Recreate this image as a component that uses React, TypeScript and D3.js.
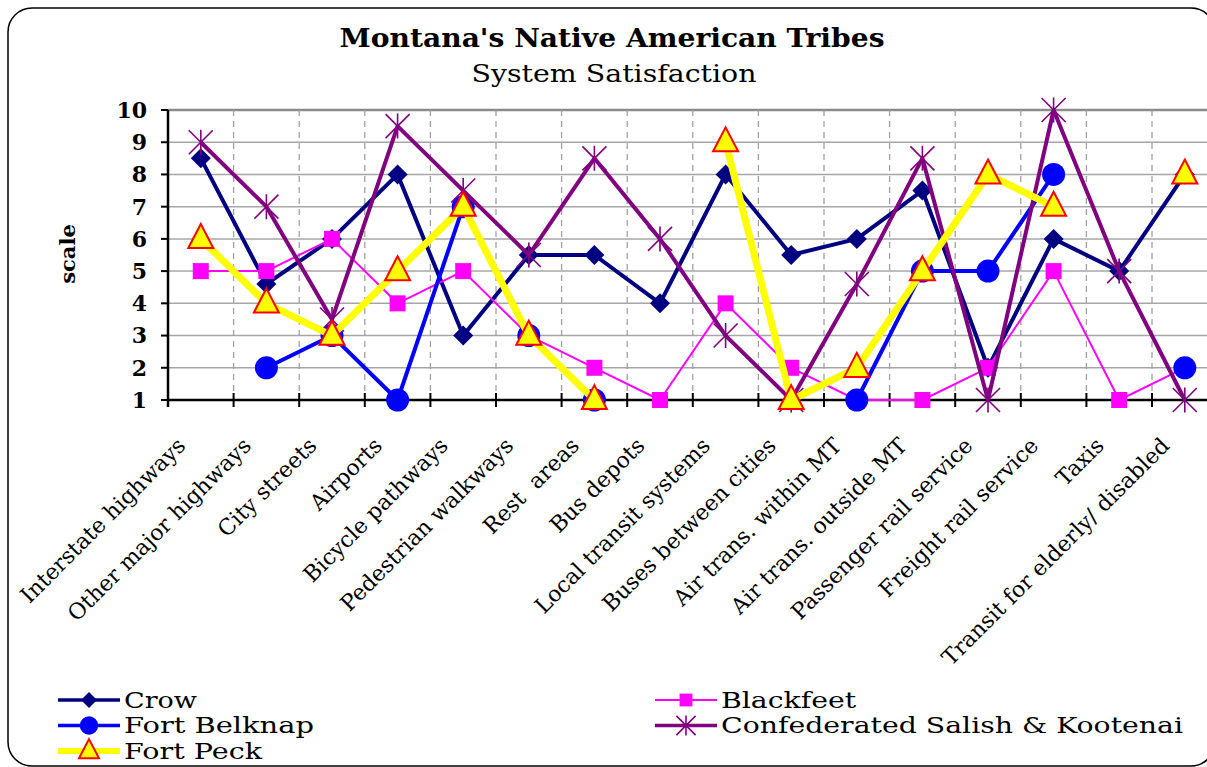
import React from "react";
import * as d3 from "d3";

const categories = [
  "Interstate highways",
  "Other major highways",
  "City streets",
  "Airports",
  "Bicycle pathways",
  "Pedestrian walkways",
  "Rest  areas",
  "Bus depots",
  "Local transit systems",
  "Buses between cities",
  "Air trans. within MT",
  "Air trans. outside MT",
  "Passenger rail service",
  "Freight rail service",
  "Taxis",
  "Transit for elderly/ disabled",
];

const crow: (number | null)[] = [8.5, 4.6, 6, 8, 3, 5.5, 5.5, 4, 8, 5.5, 6, 7.5, 2, 6, 5, 8];
const blackfeet: (number | null)[] = [5, 5, 6, 4, 5, 3, 2, 1, 4, 2, 1, 1, 2, 5, 1, 2];
const fortBelknap: (number | null)[] = [null, 2, 3, 1, 7, 3, 1, null, null, null, 1, 5, 5, 8, null, 2];
const salishKootenai: (number | null)[] = [9, 7, 3.5, 9.5, 7.5, 5.5, 8.5, 6, 3, 1, 4.6, 8.5, 1, 10, 5, 1];
const fortPeck: (number | null)[] = [6, 4, 3, 5, 7, 3, 1, null, 9, 1, 2, 5, 8, 7, null, 8];

const yTicks = [1, 2, 3, 4, 5, 6, 7, 8, 9, 10];

type MarkerType = "diamond" | "square" | "circle" | "asterisk" | "triangle";

interface Series {
  name: string;
  values: (number | null)[];
  color: string;
  width: number;
  marker: MarkerType;
}

const series: Series[] = [
  { name: "Crow", values: crow, color: "#000080", width: 4, marker: "diamond" },
  { name: "Blackfeet", values: blackfeet, color: "#FF00FF", width: 2, marker: "square" },
  { name: "Fort Belknap", values: fortBelknap, color: "#0000FF", width: 4, marker: "circle" },
  { name: "Confederated Salish & Kootenai", values: salishKootenai, color: "#800080", width: 4, marker: "asterisk" },
  { name: "Fort Peck", values: fortPeck, color: "#FFFF00", width: 7, marker: "triangle" },
];

const legendItems = [
  { name: "Crow", col: 0, row: 0, len: 73 },
  { name: "Blackfeet", col: 1, row: 0, len: 135 },
  { name: "Fort Belknap", col: 0, row: 1, len: 190 },
  { name: "Confederated Salish & Kootenai", col: 1, row: 1, len: 462 },
  { name: "Fort Peck", col: 0, row: 2, len: 138 },
];

const FONT = "'DejaVu Serif', 'Liberation Serif', serif";

function Marker({ type, x, y, s, color }: { type: MarkerType; x: number; y: number; s: number; color: string }) {
  const h = s / 2;
  switch (type) {
    case "diamond":
      return <path d={`M${x},${y - h}L${x + h},${y}L${x},${y + h}L${x - h},${y}Z`} fill={color} />;
    case "square":
      return <rect x={x - h * 0.8} y={y - h * 0.8} width={s * 0.8} height={s * 0.8} fill={color} />;
    case "circle":
      return <circle cx={x} cy={y} r={h * 1.15} fill={color} />;
    case "asterisk":
      return (
        <path
          d={`M${x},${y - h * 1.25}L${x},${y + h * 1.25}M${x - h * 1.2},${y - h * 1.2}L${x + h * 1.2},${y + h * 1.2}M${x + h * 1.2},${y - h * 1.2}L${x - h * 1.2},${y + h * 1.2}`}
          stroke={color}
          strokeWidth={1.6}
          fill="none"
        />
      );
    case "triangle": {
      const w = s * 1.25;
      const th = s * 1.2;
      return (
        <path
          d={`M${x},${y - th * 0.62}L${x + w / 2},${y + th * 0.38}L${x - w / 2},${y + th * 0.38}Z`}
          fill="#FFFF00"
          stroke="#FF0000"
          strokeWidth={2}
        />
      );
    }
  }
}

export default function App() {
  const left = 168;
  const top = 110;
  const bottom = 400;
  const step = 65.6;
  const right = left + step * categories.length;

  const x = d3.scaleBand<string>().domain(categories).range([left, right]).padding(0);
  const y = d3.scaleLinear().domain([1, 10]).range([bottom, top]);
  const cx = (c: string) => (x(c) as number) + x.bandwidth() / 2;

  const line = d3
    .line<number | null>()
    .defined((d) => d !== null)
    .x((_, i) => cx(categories[i]))
    .y((d) => y(d as number));

  const boundaries = categories.map((c) => x(c) as number).concat([right]);

  return (
    <svg
      width={1207}
      height={767}
      style={{ position: "absolute", left: 0, top: 0, background: "#fff" }}
      fontFamily={FONT}
    >
      <rect x={0} y={0} width={1207} height={767} fill="#fff" />
      <rect x={8} y={8} width={1207} height={758} rx={24} ry={24} fill="#fff" stroke="#000" strokeWidth={1.5} />

      {/* Title */}
      <text x={612} y={47} textAnchor="middle" fontWeight="bold" fontSize={26} textLength={545} lengthAdjust="spacingAndGlyphs">
        Montana's Native American Tribes
      </text>
      <text x={614} y={82} textAnchor="middle" fontSize={25} textLength={285} lengthAdjust="spacingAndGlyphs">
        System Satisfaction
      </text>

      {/* Gridlines */}
      {yTicks.slice(1).map((t) => (
        <line key={"g" + t} x1={left} x2={right} y1={y(t)} y2={y(t)} stroke={t === 10 ? "#8a8a8a" : "#a6a6a6"} strokeWidth={t === 10 ? 2.5 : 1.5} />
      ))}
      {boundaries.slice(1).map((b, i) => (
        <line key={"v" + i} x1={b} x2={b} y1={top} y2={bottom} stroke="#a0a0a0" strokeWidth={1.3} strokeDasharray="6,5" />
      ))}

      {/* Axes */}
      <line x1={left} x2={right} y1={bottom} y2={bottom} stroke="#000" strokeWidth={2.5} />
      <line x1={left} x2={left} y1={top} y2={bottom + 7} stroke="#000" strokeWidth={2.5} />
      {yTicks.map((t) => (
        <line key={"yt" + t} x1={left - 7} x2={left} y1={y(t)} y2={y(t)} stroke="#000" strokeWidth={2} />
      ))}
      {boundaries.map((b, i) => (
        <line key={"xt" + i} x1={b} x2={b} y1={bottom - 7} y2={bottom + 7} stroke="#000" strokeWidth={2} />
      ))}
      {yTicks.map((t) => (
        <text key={"yl" + t} x={147} y={y(t)} dy="0.36em" textAnchor="end" fontWeight="bold" fontSize={22}>
          {t}
        </text>
      ))}
      <text transform={`translate(75,254) rotate(-90)`} textAnchor="middle" fontWeight="bold" fontSize={21}>
        scale
      </text>
      {categories.map((c) => (
        <text
          key={"xl" + c}
          transform={`translate(${cx(c) - 14},${447}) rotate(-45)`}
          textAnchor="end"
          fontSize={22}
          xmlSpace="preserve"
        >
          {c}
        </text>
      ))}

      {/* Series */}
      {series.map((s) => (
        <g key={s.name}>
          <path d={line(s.values) || ""} fill="none" stroke={s.color} strokeWidth={s.width} strokeLinejoin="round" />
          {s.values.map((v, i) =>
            v === null ? null : (
              <Marker key={i} type={s.marker} x={cx(categories[i])} y={y(v)} s={20} color={s.color} />
            )
          )}
        </g>
      ))}

      {/* Legend */}
      {legendItems.map((it) => {
        const s = series.find((d) => d.name === it.name) as Series;
        const lx = it.col === 0 ? 58 : 655;
        const ly = 700 + it.row * 25.5;
        return (
          <g key={"lg" + it.name}>
            <line x1={lx} x2={lx + 62} y1={ly} y2={ly} stroke={s.color} strokeWidth={s.width === 7 ? 6 : s.width === 2 ? 2 : 3.5} />
            <Marker type={s.marker} x={lx + 31} y={ly} s={16} color={s.color} />
            <text x={lx + 66} y={ly + 7.5} fontSize={22} textLength={it.len} lengthAdjust="spacingAndGlyphs">
              {it.name}
            </text>
          </g>
        );
      })}
    </svg>
  );
}
